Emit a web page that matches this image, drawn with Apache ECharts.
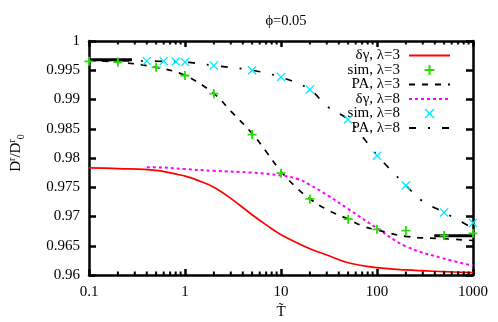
<!DOCTYPE html>
<html>
<head>
<meta charset="utf-8">
<script src="https://cdn.jsdelivr.net/npm/echarts@6/dist/echarts.min.js"></script>
<style>
  html, body { margin: 0; padding: 0; background: #fff; }
  #chart { width: 498px; height: 322px; }
</style>
</head>
<body>
<div id="chart"></div>
<script>
// Data
const dgX3 = [0.1, 0.2, 0.5, 1, 1.5, 2, 3, 5, 7, 10, 20, 30, 50, 100, 200, 500, 1000];
const dgY3 = [0.9783, 0.9782, 0.9779, 0.9769, 0.9759, 0.9750, 0.9731, 0.9703, 0.96857, 0.9669, 0.9645, 0.96343, 0.9621, 0.96125, 0.96086, 0.96057, 0.9604];

const simX3 = [0.1, 0.2, 0.5, 1, 2, 5, 10, 20, 50, 100, 200, 500, 1000];
const simY3 = [0.99652, 0.9964, 0.9955, 0.9941, 0.9910, 0.9840, 0.9774, 0.9730, 0.96955, 0.9678, 0.9676, 0.96674, 0.9671];

const paX3 = [0.1, 0.2, 0.5, 1, 2, 3, 5, 7, 10, 15, 20, 30, 50, 70, 100, 200, 500, 1000];
const paY3 = [0.99665, 0.9964, 0.9955, 0.9941, 0.9910, 0.9880, 0.9842, 0.9811, 0.9777, 0.9747, 0.9730, 0.9712, 0.96955, 0.9684, 0.9677, 0.9666, 0.9662, 0.9659];

const dgX8 = [0.4, 0.5, 1, 2, 5, 10, 15, 20, 30, 50, 100, 200, 500, 1000];
const dgY8 = [0.9784, 0.9784, 0.9781, 0.9778, 0.9775, 0.9770, 0.9764, 0.9754, 0.9737, 0.9713, 0.9680, 0.9649, 0.9628, 0.9616];

const simX8 = [0.4, 0.6, 0.8, 1, 2, 5, 10, 20, 50, 100, 200, 500, 1000];
const simY8 = [0.99657, 0.99657, 0.9965, 0.9964, 0.9958, 0.9950, 0.99383, 0.9917, 0.9866, 0.9804, 0.9753, 0.9707, 0.9689];

const paX8 = [0.1, 0.3, 0.5, 1, 2, 5, 10, 20, 30, 50, 70, 100, 200, 300, 500, 1000];
const paY8 = [0.9967, 0.9966, 0.99655, 0.9964, 0.9958, 0.9950, 0.9938, 0.9917, 0.98886, 0.9866, 0.98371, 0.9805, 0.9753, 0.9726, 0.9707, 0.9680];

// short limit segments (low / high T)
const limLowX = [0.1, 0.28];
const limLowY = [0.99681, 0.99681];
const limHighX = [395, 1000];
const limHighY = [0.96669, 0.96669];

const yMin = 0.96, yMax = 1, yStep = 0.005;
const xMin = 0.1, xMax = 1000;
const minorTicksX = [0.2, 0.3, 0.4, 0.5, 0.6, 0.7, 0.8, 0.9,
                     2, 3, 4, 5, 6, 7, 8, 9,
                     20, 30, 40, 50, 60, 70, 80, 90,
                     200, 300, 400, 500, 600, 700, 800, 900];

const legendNames = ['δγ, λ=3', 'sim, λ=3', 'PA, λ=3', 'δγ, λ=8', 'sim, λ=8', 'PA, λ=8'];

const FONT = '"Liberation Serif", "DejaVu Serif", serif';
const plusPath = 'path://M4,0H6V4H10V6H6V10H4V6H0V4H4Z';
const crossPath = 'path://M0,1L1,0L5,4L9,0L10,1L6,5L10,9L9,10L5,6L1,10L0,9L4,5Z';

function zip(xs, ys) { return xs.map((x, i) => [x, ys[i]]); }

const chart = echarts.init(document.getElementById('chart'));

const axisLine = { show: true, lineStyle: { color: '#000', width: 2.5 } };
const noSym = { opacity: 0 };

chart.setOption({
  animation: false,
  backgroundColor: '#fff',
  title: {
    text: 'ϕ=0.05',
    left: 281, top: 9, textAlign: 'center',
    textStyle: { fontFamily: FONT, fontSize: 14.5, fontWeight: 'normal', color: '#000' }
  },
  grid: { left: 89, right: 25, top: 41, bottom: 47, outerBoundsMode: 'none' },
  legend: {
    data: [
      { name: legendNames[0], itemStyle: noSym },
      { name: legendNames[1], icon: plusPath },
      { name: legendNames[2], itemStyle: noSym },
      { name: legendNames[3], itemStyle: noSym },
      { name: legendNames[4], icon: crossPath },
      { name: legendNames[5], itemStyle: noSym }
    ],
    orient: 'vertical',
    right: 42, top: 43,
    align: 'right',
    itemWidth: 41, itemHeight: 10, itemGap: -0.5,
    textStyle: { fontFamily: FONT, fontSize: 15, color: '#000', lineHeight: 14, width: 62, padding: [0, 4, 0, 0] }
  },
  xAxis: [{
    type: 'log', logBase: 10, min: xMin, max: xMax,
    name: 'T\u0303', nameLocation: 'middle', nameGap: 24,
    nameTextStyle: { fontFamily: FONT, fontSize: 15, color: '#000' },
    axisLine: axisLine,
    axisTick: { inside: true, length: 6, lineStyle: { color: '#000', width: 2.5 } },
    axisLabel: {
      fontFamily: FONT, fontSize: 15, color: '#000', margin: 10,
      formatter: v => String(+(+v).toPrecision(6))
    },
    splitLine: { show: false }
  }, {
    type: 'log', logBase: 10, min: xMin, max: xMax, position: 'top',
    axisLine: axisLine,
    axisTick: { inside: true, length: 6, lineStyle: { color: '#000', width: 2.5 } },
    axisLabel: { show: false },
    splitLine: { show: false }
  }],
  yAxis: [{
    type: 'value', min: yMin, max: yMax, interval: yStep,
    name: '{b|D}{sup|r}{b|/D}{sup|r}{sub|0}',
    nameLocation: 'middle', nameRotate: 90, nameGap: 62,
    nameTextStyle: {
      padding: [0, 0, 0, 10],
      rich: {
        b: { fontFamily: FONT, fontSize: 15, color: '#000', lineHeight: 22 },
        sup: { fontFamily: FONT, fontSize: 10, color: '#000', verticalAlign: 'top', padding: [2, 0, 0, 0] },
        sub: { fontFamily: FONT, fontSize: 10, color: '#000', verticalAlign: 'bottom', padding: [0, 0, 1, 0] }
      }
    },
    axisLine: axisLine,
    axisTick: { inside: true, length: 7, lineStyle: { color: '#000', width: 2.5 } },
    axisLabel: { fontFamily: FONT, fontSize: 15, color: '#000', margin: 9 },
    splitLine: { show: false }
  }, {
    type: 'value', min: yMin, max: yMax, interval: yStep, position: 'right',
    axisLine: axisLine,
    axisTick: { inside: true, length: 7, lineStyle: { color: '#000', width: 2.5 } },
    axisLabel: { show: false },
    splitLine: { show: false }
  }],
  series: [
    {
      name: legendNames[0], type: 'line', data: zip(dgX3, dgY3), smooth: 0.4, showSymbol: false,
      lineStyle: { color: '#ff0000', width: 1.7 }, itemStyle: { color: '#ff0000' }, z: 3
    },
    {
      name: legendNames[1], type: 'scatter', data: zip(simX3, simY3), symbol: plusPath, symbolSize: 9,
      itemStyle: { color: '#22e000', opacity: 1 }, z: 6
    },
    {
      name: legendNames[2], type: 'line', data: zip(paX3, paY3), smooth: 0.4, showSymbol: false,
      lineStyle: { color: '#000', width: 1.7, type: [6, 7] }, itemStyle: { color: '#000' }, z: 4
    },
    {
      name: legendNames[3], type: 'line', data: zip(dgX8, dgY8), smooth: 0.4, showSymbol: false,
      lineStyle: { color: '#ff00ff', width: 2, type: [3, 3] }, itemStyle: { color: '#ff00ff' }, z: 3
    },
    {
      name: legendNames[4], type: 'scatter', data: zip(simX8, simY8), symbol: crossPath, symbolSize: 9,
      itemStyle: { color: '#00e8ff', opacity: 1 }, z: 6
    },
    {
      name: legendNames[5], type: 'line', data: zip(paX8, paY8), smooth: 0.4, showSymbol: false,
      lineStyle: { color: '#000', width: 1.7, type: [7, 12, 2, 12] }, itemStyle: { color: '#000' }, z: 4
    },
    {
      name: 'limLow', type: 'line', data: zip(limLowX, limLowY), showSymbol: false,
      lineStyle: { color: '#000', width: 3 }, z: 5
    },
    {
      name: 'limHigh', type: 'line', data: zip(limHighX, limHighY), showSymbol: false,
      lineStyle: { color: '#000', width: 3 }, z: 5
    },
    {
      name: 'minorTicks', type: 'custom', silent: true, z: 7,
      data: minorTicksX.map(v => [v, yMin]),
      encode: { x: 0, y: 1 },
      renderItem: function (params, api) {
        const x = api.coord([api.value(0), yMin])[0];
        const cs = params.coordSys;
        const style = { stroke: '#000', lineWidth: 2 };
        return {
          type: 'group',
          children: [
            { type: 'line', shape: { x1: x, y1: cs.y + cs.height, x2: x, y2: cs.y + cs.height - 3.5 }, style: style },
            { type: 'line', shape: { x1: x, y1: cs.y, x2: x, y2: cs.y + 3.5 }, style: style }
          ]
        };
      }
    }
  ]
});
</script>
</body>
</html>
